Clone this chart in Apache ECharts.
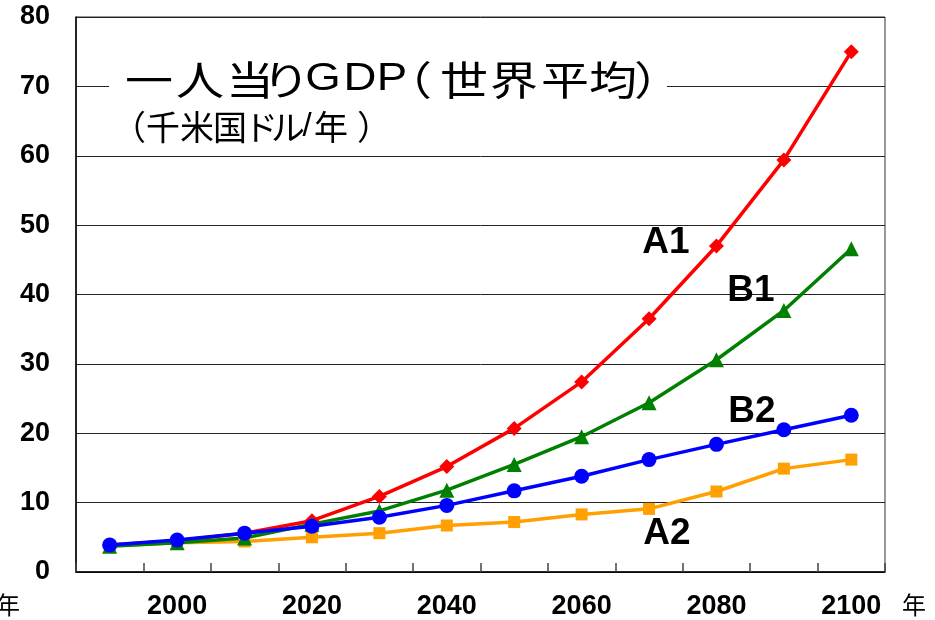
<!DOCTYPE html>
<html>
<head>
<meta charset="utf-8">
<script src="https://cdn.jsdelivr.net/npm/echarts@6/dist/echarts.min.js"></script>
<style>
  html, body { margin: 0; padding: 0; background: #fff; }
  #chart { width: 935px; height: 620px; }
</style>
</head>
<body>
<div id="chart"></div>
<script>
// Years (categories) and per-capita GDP by scenario, thousand USD / year
const years = ['1990', '2000', '2010', '2020', '2030', '2040', '2050', '2060', '2070', '2080', '2090', '2100'];
const a1 = [3.9, 4.5, 5.6, 7.4, 10.9, 15.2, 20.7, 27.4, 36.5, 47.0, 59.4, 75.0];
const b1 = [3.7, 4.2, 4.9, 6.9, 8.8, 11.8, 15.5, 19.5, 24.4, 30.6, 37.7, 46.6];
const b2 = [3.9, 4.6, 5.6, 6.6, 7.9, 9.6, 11.7, 13.8, 16.2, 18.4, 20.5, 22.6];
const a2 = [3.8, 4.2, 4.4, 5.0, 5.6, 6.7, 7.2, 8.3, 9.1, 11.6, 14.9, 16.2];

const titleText = '一人当りGDP（世界平均）';
const unitText = '（千米国ドル/年）';
const yearUnit = '年';

const latin = '"Liberation Sans", Arial, sans-serif';
const cjk = '"Noto Sans CJK JP", "Noto Sans", sans-serif';

// Loosely tracked heading: each glyph is centred on its own x position
const titleXs = [149, 200, 250, 286, 323, 360, 392, 408, 464, 514, 565, 613, 658];
const unitXs = [129, 163, 197, 230, 261, 288, 307, 331, 374];

function spacedText(text, xs, y, fontFor, sx) {
  return Array.from(text).map(function (ch, i) {
    return {
      type: 'text', x: xs[i], y: y, z: 11, scaleX: sx,
      style: { text: ch, font: fontFor(ch), fill: '#000', textAlign: 'center', textVerticalAlign: 'middle' }
    };
  });
}

function lineSeries(name, data, color, symbol, size) {
  return {
    name: name,
    type: 'line',
    data: data,
    symbol: symbol,
    symbolSize: size,
    showAllSymbol: true,
    lineStyle: { color: color, width: 3.5 },
    itemStyle: { color: color },
    emphasis: { disabled: true },
    animation: false
  };
}

function seriesTag(text, x, y) {
  return {
    type: 'text', x: x, y: y, z: 11,
    style: { text: text, font: 'bold 37px ' + latin, fill: '#000', textAlign: 'center', textVerticalAlign: 'middle' }
  };
}

const chart = echarts.init(document.getElementById('chart'), null, { renderer: 'canvas' });

chart.setOption({
  animation: false,
  grid: {
    left: 76, right: 50, top: 17, bottom: 48,
    show: true, borderColor: '#333', borderWidth: 1, backgroundColor: 'transparent'
  },
  xAxis: {
    type: 'category',
    data: years,
    boundaryGap: true,
    axisLine: { lineStyle: { color: '#000', width: 1.5 } },
    axisTick: { show: true, inside: true, length: 9, interval: 0, lineStyle: { color: '#444', width: 1.5 } },
    axisLabel: {
      interval: function (i) { return i % 2 === 1; },
      color: '#000', fontFamily: latin, fontWeight: 'bold', fontSize: 27, margin: 21
    },
    splitLine: { show: false },
    z: 5
  },
  yAxis: {
    type: 'value',
    min: 0, max: 80, interval: 10,
    axisLine: { show: true, lineStyle: { color: '#000', width: 1.5 } },
    axisTick: { show: false },
    axisLabel: { color: '#000', fontFamily: latin, fontWeight: 'bold', fontSize: 27, margin: 26 },
    splitLine: { lineStyle: { color: '#222', width: 1 } }
  },
  series: [
    lineSeries('A2', a2, '#FF9F00', 'rect', 12),
    lineSeries('A1', a1, '#FF0000', 'diamond', 15),
    lineSeries('B1', b1, '#008000', 'triangle', 15),
    lineSeries('B2', b2, '#0000FF', 'circle', 15)
  ],
  graphic: [
    { type: 'rect', shape: { x: 109, y: 58, width: 558, height: 46 }, style: { fill: '#fff' }, z: 10 }
  ]
    .concat(spacedText(titleText, titleXs, 80, function (ch) {
      return /[A-Z]/.test(ch) ? '38px ' + latin : '40px ' + cjk;
    }, 1.2))
    .concat(spacedText(unitText, unitXs, 127, function (ch) {
      return ch === '/' ? '33px ' + latin : '34px ' + cjk;
    }, 1.0))
    .concat([
      seriesTag('A1', 666, 243),
      seriesTag('B1', 751, 291),
      seriesTag('B2', 752, 412),
      seriesTag('A2', 667, 534),
      { type: 'text', x: 8, y: 605, z: 11,
        style: { text: yearUnit, font: '24px ' + cjk, fill: '#000', textAlign: 'center', textVerticalAlign: 'middle' } },
      { type: 'text', x: 914, y: 605, z: 11,
        style: { text: yearUnit, font: '24px ' + cjk, fill: '#000', textAlign: 'center', textVerticalAlign: 'middle' } }
    ])
});
</script>
</body>
</html>
